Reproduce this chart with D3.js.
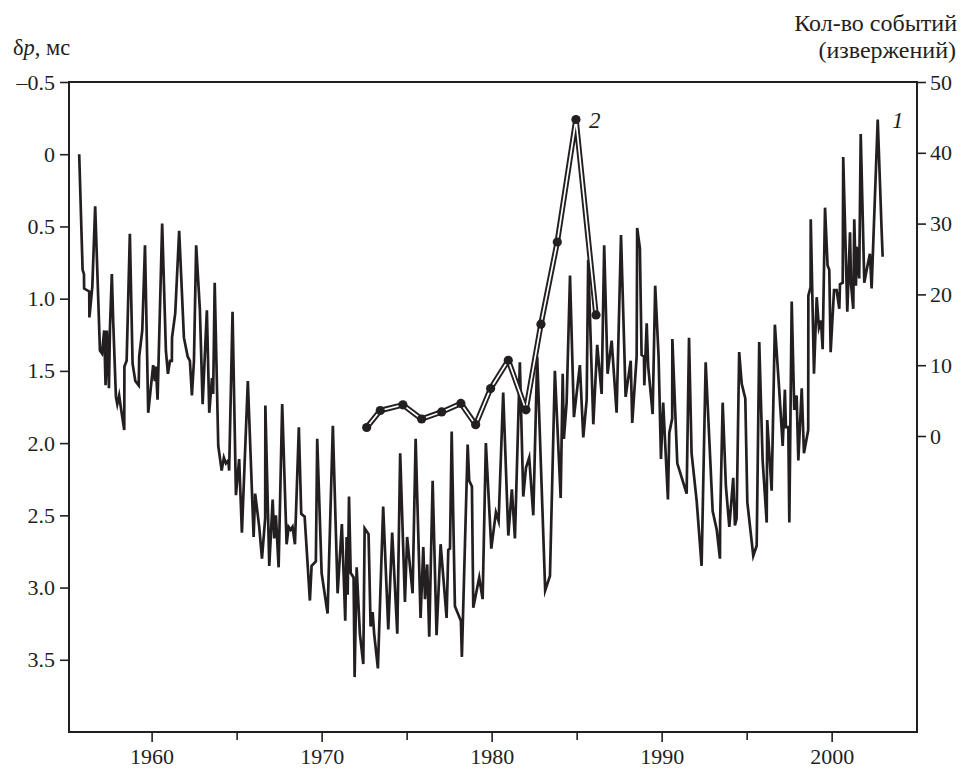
<!DOCTYPE html>
<html><head><meta charset="utf-8">
<script src="https://cdn.jsdelivr.net/npm/d3@7"></script>
<style>
body{margin:0;background:#fff;}
svg{display:block;}
svg text{font-family:"Liberation Serif",serif;}
</style></head><body>
<svg id="chart" width="960" height="768"></svg>
<script>
// Series 1: δp (ms) vs year
const deltaP = [
[1955.74,0.00],[1955.94,0.80],[1956.02,0.83],[1956.03,0.93],[1956.33,0.95],[1956.34,1.13],[1956.51,0.92],[1956.68,0.36],[1956.96,1.36],[1957.08,1.38],[1957.21,1.22],[1957.29,1.60],[1957.37,1.22],[1957.49,1.62],[1957.55,1.20],[1957.66,0.83],[1957.74,1.16],[1957.90,1.68],[1957.98,1.73],[1958.09,1.67],[1958.21,1.77],[1958.39,1.91],[1958.40,1.47],[1958.53,1.43],[1958.72,0.55],[1958.88,1.45],[1959.04,1.57],[1959.24,1.60],[1959.27,1.40],[1959.45,1.22],[1959.61,0.63],[1959.80,1.79],[1960.09,1.46],[1960.19,1.57],[1960.25,1.47],[1960.35,1.70],[1960.62,0.48],[1960.84,1.36],[1960.96,1.52],[1961.08,1.43],[1961.19,1.43],[1961.20,1.27],[1961.39,1.10],[1961.62,0.53],[1961.90,1.27],[1962.12,1.40],[1962.25,1.43],[1962.37,1.67],[1962.49,1.43],[1962.62,0.63],[1962.84,1.08],[1963.00,1.73],[1963.25,1.08],[1963.39,1.79],[1963.55,1.55],[1963.62,1.66],[1963.71,0.89],[1963.92,2.02],
[1964.12,2.19],[1964.25,2.10],[1964.37,2.14],[1964.51,2.12],[1964.56,2.19],[1964.76,1.09],[1964.96,2.36],[1965.15,2.11],[1965.31,2.62],[1965.66,1.57],[1966.00,2.65],[1966.09,2.35],[1966.33,2.58],[1966.49,2.80],[1966.68,2.52],[1966.69,1.74],[1966.92,2.85],[1967.12,2.39],[1967.21,2.66],[1967.31,2.50],[1967.47,2.86],[1967.68,1.73],[1967.94,2.70],[1968.06,2.58],[1968.18,2.60],[1968.29,2.58],[1968.43,2.70],[1968.66,1.89],[1968.80,2.49],[1969.00,2.51],[1969.31,3.09],[1969.41,2.85],[1969.66,2.82],[1969.74,1.97],[1970.00,2.90],[1970.35,3.18],[1970.66,1.88],[1970.94,3.04],[1971.19,2.56],[1971.39,3.23],[1971.47,2.65],[1971.53,3.05],[1971.61,2.37],[1971.71,2.90],[1971.88,2.93],[1971.94,3.62],[1972.06,2.86],[1972.25,3.32],[1972.45,3.53],[1972.53,2.59],[1972.76,2.63],[1972.88,3.27],[1973.00,3.17],[1973.09,3.32],[1973.31,3.56],[1973.62,2.44],[1973.92,3.29],[1974.15,2.62],[1974.45,3.32],[1974.62,2.07],
[1974.90,3.10],[1975.03,2.65],[1975.35,3.04],[1975.53,1.97],[1975.82,3.21],[1975.98,2.72],[1976.08,3.08],[1976.21,2.84],[1976.33,3.34],[1976.53,2.26],[1976.76,3.33],[1977.00,2.70],[1977.35,3.21],[1977.45,2.74],[1977.55,2.73],[1977.65,1.92],[1977.84,3.13],[1978.19,3.23],[1978.25,3.48],[1978.59,2.01],[1978.68,2.26],[1978.84,2.30],[1978.92,3.14],[1979.27,2.93],[1979.47,3.08],[1979.66,2.00],[1979.98,2.73],[1980.25,2.48],[1980.41,2.54],[1980.68,1.65],[1980.98,2.64],[1981.19,2.32],[1981.37,2.66],[1981.66,1.44],[1981.86,2.37],[1982.02,2.17],[1982.21,2.10],[1982.45,2.50],[1982.68,1.40],[1983.15,3.02],[1983.43,2.92],[1983.72,1.50],[1984.06,2.38],[1984.18,1.52],[1984.25,1.97],[1984.41,1.72],[1984.61,0.84],[1984.84,1.82],[1985.19,1.46],[1985.39,1.96],[1985.59,1.70],[1985.68,0.73],[1985.98,1.87],[1986.21,1.32],[1986.47,1.66],[1986.62,0.63],[1986.82,1.52],[1987.06,1.29],[1987.35,1.79],[1987.61,0.56],
[1987.80,1.34],[1987.88,1.68],[1988.18,1.43],[1988.27,1.86],[1988.53,1.40],[1988.56,0.51],[1988.72,0.65],[1988.82,1.39],[1988.96,1.40],[1988.98,1.60],[1989.12,1.17],[1989.21,1.47],[1989.47,1.80],[1989.62,0.91],[1989.82,1.40],[1989.96,2.11],[1990.09,1.72],[1990.37,2.39],[1990.45,1.93],[1990.62,1.83],[1990.63,1.28],[1990.92,2.14],[1991.47,2.35],[1991.61,1.27],[1991.76,2.07],[1992.06,2.40],[1992.35,2.85],[1992.59,1.44],[1993.00,2.47],[1993.24,2.60],[1993.43,2.80],[1993.44,2.54],[1993.59,1.72],[1993.78,2.30],[1993.98,2.58],[1994.21,2.24],[1994.31,2.57],[1994.41,2.52],[1994.56,1.37],[1994.71,1.59],[1994.92,1.69],[1995.04,2.41],[1995.39,2.78],[1995.59,2.71],[1995.74,1.30],
[1995.94,2.12],[1996.18,2.55],[1996.21,1.84],[1996.47,2.33],[1996.66,1.18],[1996.92,1.64],[1997.12,2.02],[1997.25,1.63],[1997.31,1.89],[1997.45,1.89],[1997.51,2.55],[1997.65,1.02],[1997.80,1.77],[1997.94,1.67],[1998.04,2.12],[1998.24,1.62],[1998.37,2.07],[1998.62,1.91],[1998.63,0.98],[1998.76,0.92],[1998.77,0.45],[1998.96,1.52],[1999.12,0.99],[1999.25,1.20],[1999.37,1.15],[1999.47,1.35],[1999.61,0.37],[1999.76,0.77],[1999.86,0.80],[1999.94,1.37],[2000.14,0.94],[2000.29,0.94],[2000.45,1.07],[2000.49,0.90],[2000.65,0.89],[2000.68,0.02],[2000.92,1.09],[2001.08,0.54],[2001.14,0.90],[2001.27,1.07],[2001.33,0.45],[2001.43,0.91],[2001.47,0.64],[2001.62,0.86],[2001.71,-0.14],[2001.92,0.89],[2002.06,0.80],[2002.25,0.69],[2002.35,0.93],[2002.71,-0.24],[2002.94,0.53],[2003.00,0.71]
];
// Series 2: number of events (eruptions) per year
const eruptions = [
[1972.65,1.2],[1973.45,3.6],[1974.78,4.4],[1975.88,2.4],[1977.06,3.4],[1978.19,4.6],[1979.06,1.6],[1979.94,6.7],[1980.98,10.7],[1982.02,3.7],[1982.90,15.8],[1983.86,27.4],[1984.96,44.7],[1986.14,17.1]
];
const xLabelYears = [1960,1970,1980,1990,2000];
const xMinorYears = [1965,1975,1985,1995];
const leftTicks = [-0.5,0,0.5,1,1.5,2,2.5,3,3.5];
const rightTicks = [0,10,20,30,40,50];
const leftTitle = ["δ","p",", мс"];
const rightTitle = ["Кол-во событий","(извержений)"];
const seriesLabels = ["1","2"];

const ink = "#231f20";
const FONT = "Liberation Serif, serif";
const svg = d3.select("#chart");
const L = 69, R = 917, T = 82, B = 732;

const x = d3.scaleLinear().domain([1955.14, 2005.02]).range([L, R]);
const yL = d3.scaleLinear().domain([-0.5, 4.0]).range([T, B]);
const yR = d3.scaleLinear().domain([0, 50]).range([436, T]);

function styleAxis(g){
  g.attr("font-family", FONT).attr("font-size", 22);
  g.select(".domain").remove();
  g.selectAll(".tick line").attr("stroke", ink).attr("stroke-width", 1.6);
  g.selectAll(".tick text").attr("fill", ink).attr("font-family", FONT).attr("font-size", 22);
}

// frame
svg.append("rect").attr("x",L).attr("y",T).attr("width",R-L).attr("height",B-T)
  .attr("fill","none").attr("stroke",ink).attr("stroke-width",2);

// left axis
svg.append("g").attr("transform",`translate(${L},0)`)
  .call(d3.axisLeft(yL).tickValues(leftTicks).tickSize(9).tickPadding(5)
    .tickFormat(d => d === 0 ? "0" : (d < 0 ? "\u2013" + Math.abs(d).toFixed(1) : d.toFixed(1))))
  .call(styleAxis);

// right axis
svg.append("g").attr("transform",`translate(${R},0)`)
  .call(d3.axisRight(yR).tickValues(rightTicks).tickSize(9).tickPadding(4))
  .call(styleAxis);

// bottom axis (labelled)
svg.append("g").attr("transform",`translate(0,${B})`)
  .call(d3.axisBottom(x).tickValues(xLabelYears).tickSize(10).tickPadding(6).tickFormat(d3.format("d")))
  .call(styleAxis);
// bottom minor ticks
svg.append("g").attr("transform",`translate(0,${B})`)
  .call(d3.axisBottom(x).tickValues(xMinorYears).tickSize(8).tickFormat(""))
  .call(styleAxis);

// series 1
const line1 = d3.line().x(d => x(d[0])).y(d => yL(d[1]));
svg.append("path").datum(deltaP).attr("d", line1)
  .attr("fill","none").attr("stroke",ink).attr("stroke-width",2.7)
  .attr("stroke-linejoin","miter").attr("stroke-miterlimit",6);

// series 2 (double line with dots)
const line2 = d3.line().x(d => x(d[0])).y(d => yR(d[1]));
svg.append("path").datum(eruptions).attr("d", line2)
  .attr("fill","none").attr("stroke",ink).attr("stroke-width",5.5).attr("stroke-linejoin","round");
svg.append("path").datum(eruptions).attr("d", line2)
  .attr("fill","none").attr("stroke","#fff").attr("stroke-width",1.7).attr("stroke-linejoin","round");
svg.selectAll("circle.pt").data(eruptions).enter().append("circle")
  .attr("class","pt").attr("cx", d => x(d[0])).attr("cy", d => yR(d[1])).attr("r",4.6).attr("fill",ink);

// titles
const lt = svg.append("text").attr("x",13).attr("y",55).attr("fill",ink)
  .attr("font-family",FONT).attr("font-size",22.5);
lt.append("tspan").text(leftTitle[0]);
lt.append("tspan").attr("font-style","italic").text(leftTitle[1]);
lt.append("tspan").text(leftTitle[2]);

svg.append("text").attr("x",957).attr("y",31).attr("text-anchor","end").attr("fill",ink)
  .attr("font-family",FONT).attr("font-size",24).text(rightTitle[0]);
svg.append("text").attr("x",956).attr("y",58).attr("text-anchor","end").attr("fill",ink)
  .attr("font-family",FONT).attr("font-size",24).text(rightTitle[1]);

// series labels
const peak2 = eruptions.reduce((a,b) => b[1] > a[1] ? b : a);
svg.append("text").attr("x", x(2003.55)).attr("y", 128).attr("fill",ink)
  .attr("font-family",FONT).attr("font-size",23).attr("font-style","italic").text(seriesLabels[0]);
svg.append("text").attr("x", x(peak2[0]) + 13).attr("y", yR(peak2[1]) + 8).attr("fill",ink)
  .attr("font-family",FONT).attr("font-size",23).attr("font-style","italic").text(seriesLabels[1]);
</script>
</body></html>
